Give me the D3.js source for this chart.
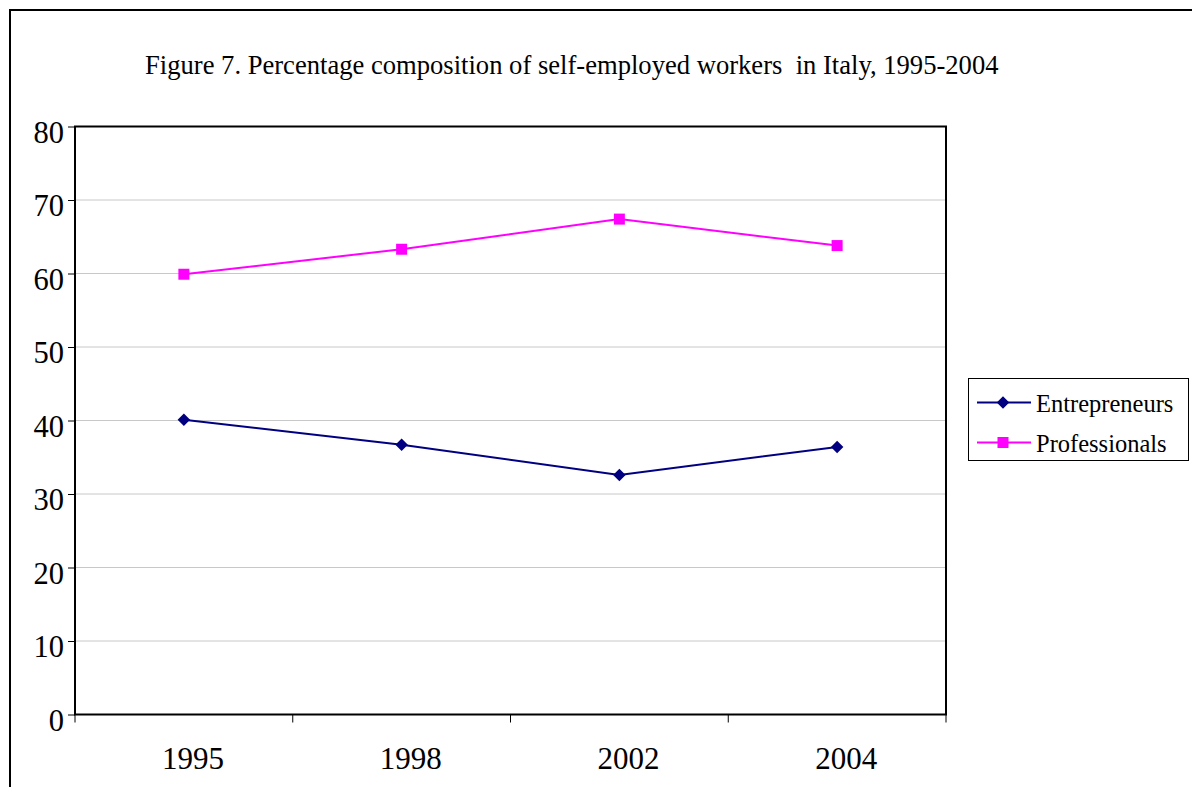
<!DOCTYPE html>
<html>
<head>
<meta charset="utf-8">
<script src="https://cdn.jsdelivr.net/npm/d3@7"></script>
<style>
  body { margin: 0; background: #fff; }
  svg { display: block; font-family: "Liberation Serif", "Times New Roman", serif; }
</style>
</head>
<body>
<script>
'use strict';

const WIDTH = 1192;
const HEIGHT = 787;

const TITLE = 'Figure 7. Percentage composition of self-employed workers\u00a0\u00a0in Italy, 1995-2004';

const YEARS = ['1995', '1998', '2002', '2004'];
const ENTREPRENEURS = [40.1, 36.7, 32.6, 36.4];
const PROFESSIONALS = [59.9, 63.3, 67.4, 63.8];
const Y_TICKS = [0, 10, 20, 30, 40, 50, 60, 70, 80];

const PLOT_LEFT = 75;
const PLOT_RIGHT = 946;
const PLOT_TOP = 126.5;
const PLOT_BOTTOM = 714.5;

const NAVY = '#000080';
const MAGENTA = '#FF00FF';
const GRID_COLOR = '#c8c8c8';
const SERIF = '"Liberation Serif", "Times New Roman", serif';

function main() {
    const svg = d3.select('body')
            .append('svg')
            .attr('width', WIDTH)
            .attr('height', HEIGHT);

    // Outer chart frame (runs off the right and bottom edges).
    svg.append('rect')
            .attr('x', 10)
            .attr('y', 10)
            .attr('width', 1200)
            .attr('height', 800)
            .attr('fill', 'none')
            .attr('stroke', '#000')
            .attr('stroke-width', 2);

    svg.append('text')
            .attr('x', 145)
            .attr('y', 74)
            .style('font-size', '26.6px')
            .text(TITLE);

    const x = d3.scaleBand()
            .domain(YEARS)
            .range([PLOT_LEFT, PLOT_RIGHT])
            .padding(0);

    const y = d3.scaleLinear()
            .domain([0, 80])
            .range([PLOT_BOTTOM, PLOT_TOP]);

    const cx = d => x(d) + x.bandwidth() / 2;

    // Gridlines.
    svg.append('g')
            .selectAll('line')
            .data(Y_TICKS.filter(t => t > 0 && t < 80))
            .join('line')
            .attr('x1', PLOT_LEFT)
            .attr('x2', PLOT_RIGHT)
            .attr('y1', d => y(d))
            .attr('y2', d => y(d))
            .attr('stroke', GRID_COLOR)
            .attr('stroke-width', 1);

    // Plot area border.
    svg.append('rect')
            .attr('x', PLOT_LEFT)
            .attr('y', PLOT_TOP)
            .attr('width', PLOT_RIGHT - PLOT_LEFT)
            .attr('height', PLOT_BOTTOM - PLOT_TOP)
            .attr('fill', 'none')
            .attr('stroke', '#000')
            .attr('stroke-width', 2);

    // Y axis.
    const yAxis = svg.append('g')
            .attr('transform', `translate(${PLOT_LEFT},0)`)
            .call(d3.axisLeft(y).tickValues(Y_TICKS).tickSize(7).tickPadding(4));
    yAxis.select('.domain').remove();
    yAxis.selectAll('line').attr('stroke', '#000').attr('stroke-width', 1);
    yAxis.selectAll('text')
            .style('font-family', SERIF)
            .style('font-size', '30.5px')
            .attr('dy', '0.52em')
            .attr('fill', '#000');

    // X axis labels.
    const xAxis = svg.append('g')
            .attr('transform', `translate(0,${PLOT_BOTTOM})`)
            .call(d3.axisBottom(x).tickSizeInner(0).tickSizeOuter(0).tickPadding(32));
    xAxis.select('.domain').remove();
    xAxis.selectAll('text')
            .style('font-family', SERIF)
            .style('font-size', '31px')
            .attr('dx', 9)
            .attr('fill', '#000');

    // Category boundary ticks.
    const boundaries = YEARS.map(d => x(d)).concat([x.range()[1]]);
    svg.append('g')
            .selectAll('line')
            .data(boundaries)
            .join('line')
            .attr('x1', d => d)
            .attr('x2', d => d)
            .attr('y1', PLOT_BOTTOM)
            .attr('y2', PLOT_BOTTOM + 8)
            .attr('stroke', '#000')
            .attr('stroke-width', 1);

    const line = d3.line()
            .x(d => cx(d.year))
            .y(d => y(d.value));

    const series = [
        {name: 'Entrepreneurs', values: ENTREPRENEURS, color: NAVY, symbol: d3.symbolDiamond2, size: 100},
        {name: 'Professionals', values: PROFESSIONALS, color: MAGENTA, symbol: d3.symbolSquare, size: 121},
    ];

    series.forEach(function(s) {
        const points = YEARS.map((year, i) => ({year: year, value: s.values[i]}));

        svg.append('path')
                .datum(points)
                .attr('d', line)
                .attr('fill', 'none')
                .attr('stroke', s.color)
                .attr('stroke-width', 2);

        svg.append('g')
                .selectAll('path')
                .data(points)
                .join('path')
                .attr('transform', d => `translate(${cx(d.year)},${y(d.value)})`)
                .attr('d', d3.symbol().type(s.symbol).size(s.size))
                .attr('fill', s.color);
    });

    // Legend.
    const legend = svg.append('g');
    legend.append('rect')
            .attr('x', 968.5)
            .attr('y', 378.5)
            .attr('width', 220)
            .attr('height', 82)
            .attr('fill', '#fff')
            .attr('stroke', '#000')
            .attr('stroke-width', 1);

    series.forEach(function(s, i) {
        const ly = 402.5 + i * 40;
        legend.append('line')
                .attr('x1', 977)
                .attr('x2', 1031)
                .attr('y1', ly)
                .attr('y2', ly)
                .attr('stroke', s.color)
                .attr('stroke-width', 2);
        legend.append('path')
                .attr('transform', `translate(1003,${ly})`)
                .attr('d', d3.symbol().type(s.symbol).size(s.size))
                .attr('fill', s.color);
        legend.append('text')
                .attr('x', 1036)
                .attr('y', ly + 9)
                .style('font-size', '24.5px')
                .text(s.name);
    });
}

document.addEventListener('DOMContentLoaded', function(event) {
    main();
});
</script>
</body>
</html>
